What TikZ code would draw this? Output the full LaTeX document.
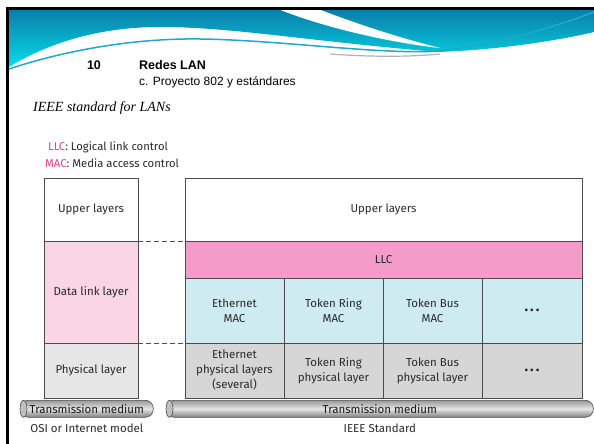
\documentclass[tikz,border=0pt]{standalone}
\usepackage{fontspec}
\setmainfont{Liberation Serif}
\setsansfont{Fira Sans}
\newfontfamily\headfont{Liberation Sans}
\usetikzlibrary{positioning}

\definecolor{dlpink}{HTML}{F9D5E6}
\definecolor{llcpink}{HTML}{F59BC9}
\definecolor{macblue}{HTML}{CDEBF1}
\definecolor{phgray}{HTML}{D6D6D6}
\definecolor{phlight}{HTML}{E6E6E6}
\definecolor{keypink}{HTML}{E23D92}
\definecolor{wavetop}{HTML}{0A7DA8}
\definecolor{wavebot}{HTML}{06DDEA}
\definecolor{waveline}{HTML}{1FA9C9}
\definecolor{inktext}{HTML}{2A2A2A}

\begin{document}
\begin{tikzpicture}[
    x=1pt, y=-1pt,
    layer/.style={
        draw=black!70,
        line width=0.7pt,
        outer sep=0pt,
        inner sep=0pt,
        anchor=north west,
        align=center,
        text=inktext,
        font=\sffamily\fontsize{11.5}{15}\selectfont
    },
    tube/.style={
        draw=black!70,
        line width=0.6pt,
        rounded corners=8pt,
        top color=black!40,
        bottom color=black!50,
        middle color=black!10,
        minimum height=17,
        inner sep=0pt,
        anchor=north west,
        text=black!90,
        font=\sffamily\fontsize{11.5}{14}\selectfont
    },
    caption/.style={text=inktext, font=\sffamily\fontsize{11.5}{14}\selectfont},
    legend/.style={anchor=west, inner sep=0pt, text=inktext, font=\sffamily\fontsize{11.3}{14}\selectfont},
    dashline/.style={draw=black!70, line width=0.8pt, dash pattern=on 5pt off 3pt}
]
\useasboundingbox (0,0) rectangle (594,444);

% slide banner
\shade[top color=wavetop, bottom color=wavebot]
    (9,9) -- (594,9) -- (594,32)
    .. controls (560,40) and (500,50) .. (437,52)
    .. controls (300,40) and (230,27) .. (160,27)
    .. controls (90,27) and (40,48) .. (9,67) -- cycle;
\fill[white] (278,9) -- (318,9) .. controls (360,25) and (400,38) .. (440,48)
    .. controls (400,44) and (330,30) .. (278,9) -- cycle;
\draw[black!30, line width=1.2pt] (330,54) .. controls (370,57) and (410,57) .. (440,54);
\draw[waveline, line width=1.5pt] (9,69) .. controls (60,52) and (130,38) .. (200,39)
    .. controls (280,40) and (380,55) .. (440,51)
    .. controls (500,44) and (560,25) .. (594,12);
\draw[line width=2.7pt] (7.5,444) -- (7.5,8.5) -- (594,8.5);

\node[font=\headfont\bfseries\fontsize{12.5}{15}\selectfont] (num) at (94,65) {10};
\node[anchor=west, inner sep=0pt, font=\headfont\bfseries\fontsize{12.5}{15}\selectfont] (title) at (139,65) {Redes LAN};
\node[anchor=west, inner sep=0pt, font=\headfont\fontsize{12}{15}\selectfont] (subtitle) at (139,82) {c. Proyecto 802 y estándares};
\node[anchor=west, inner sep=0pt, font=\itshape\fontsize{14}{16}\selectfont] (heading) at (33,108) {IEEE standard for LANs};

\node[legend] (llcdef) at (48,147) {\textcolor{keypink}{LLC}: Logical link control};
\node[legend] (macdef) at (45,163) {\textcolor{keypink}{MAC}: Media access control};

% OSI column
\node[layer, minimum width=94, minimum height=63] (osiup) at (44,178) {Upper layers};
\node[layer, fill=dlpink, minimum width=94, minimum height=102] (osidl) at (osiup.south west) {Data link layer};
\node[layer, fill=phlight, minimum width=94, minimum height=55] (osiph) at (osidl.south west) {Physical layer};

% IEEE column
\node[layer, minimum width=397, minimum height=63] (ieeeup) at (185,178) {Upper layers};
\node[layer, fill=llcpink, minimum width=397, minimum height=37] (llc) at (ieeeup.south west) {LLC};

\node[layer, fill=macblue, minimum width=99, minimum height=65] (ethmac) at (llc.south west) {Ethernet\\MAC};
\node[layer, fill=macblue, minimum width=99, minimum height=65, right=0pt of ethmac] (ringmac) {Token Ring\\MAC};
\node[layer, fill=macblue, minimum width=99, minimum height=65, right=0pt of ringmac] (busmac) {Token Bus\\MAC};
\node[layer, fill=macblue, minimum width=100, minimum height=65, right=0pt of busmac] (moremac) {\bfseries\fontsize{15}{15}\selectfont .\hspace{2pt}.\hspace{2pt}.};

\node[layer, fill=phgray, minimum width=99, minimum height=55] (ethphy) at (ethmac.south west) {Ethernet\\physical layers\\(several)};
\node[layer, fill=phgray, minimum width=99, minimum height=55, right=0pt of ethphy] (ringphy) {Token Ring\\physical layer};
\node[layer, fill=phgray, minimum width=99, minimum height=55, right=0pt of ringphy] (busphy) {Token Bus\\physical layer};
\node[layer, fill=phgray, minimum width=100, minimum height=55, right=0pt of busphy] (morephy) {\bfseries\fontsize{15}{15}\selectfont .\hspace{2pt}.\hspace{2pt}.};

\draw[dashline] (osiup.south east) -- (llc.north west);
\draw[dashline] (osidl.south east) -- (ethphy.north west);

% media
\node[tube, minimum width=133] (osimed) at (20,400) {Transmission medium};
\node[tube, minimum width=427] (ieeemed) at (166,400) {Transmission medium};
\draw[black!70, fill=black!25, line width=0.6pt] ([xshift=3.5pt]osimed.west) ellipse (3.5pt and 8.5pt);
\draw[black!70, fill=black!25, line width=0.6pt] ([xshift=3.5pt]ieeemed.west) ellipse (3.5pt and 8.5pt);

\node[caption, below=3pt of osimed] (osicap) {OSI or Internet model};
\node[caption, below=3pt of ieeemed] (ieeecap) {IEEE Standard};

\end{tikzpicture}
\end{document}
